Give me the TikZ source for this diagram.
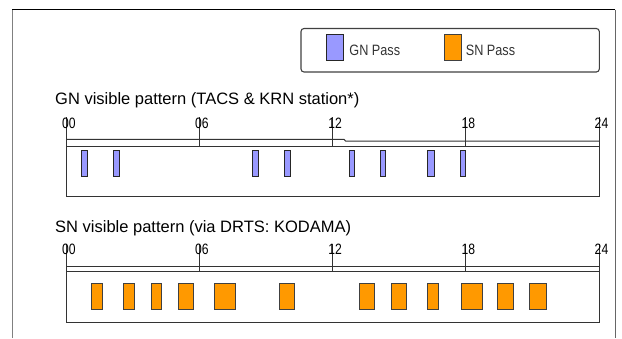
\documentclass[tikz,border=0pt]{standalone}
\usepackage{fontspec}
\setmainfont{Liberation Sans}
\usepackage{tikz}
\usetikzlibrary{positioning}
\definecolor{gnblue}{HTML}{9999FF}
\definecolor{snorange}{HTML}{FF9900}
\tikzset{
  gnbar/.style={draw=black!85, fill=gnblue, line width=0.9pt},
  snbar/.style={draw=black!75, fill=snorange, line width=0.9pt},
  tl/.style={line width=1pt, black!80},
  ttl/.style={font=\fontsize{16.5}{18}\selectfont, anchor=base west, inner sep=0pt},
  hr/.style={font=\fontsize{15}{16}\selectfont, xscale=0.81, anchor=base, inner sep=0pt},
  lgd/.style={font=\fontsize{15}{16}\selectfont, xscale=0.845, anchor=base west, inner sep=0pt, black!80},
}

\begin{document}
\begin{tikzpicture}[x=1pt,y=-1pt]
  \useasboundingbox (0,0) rectangle (622,338);
  % frame
  \draw[line width=1pt, gray] (12.3,338) -- (12.3,9.5);
  \draw[line width=1pt] (12.3,9.5) -- (615,9.5);
  \draw[line width=1pt, gray!80!black] (615,9.5) -- (615,338);

  % legend
  \draw[line width=1.1pt, black!75, rounded corners=3pt] (301,28.5) rectangle (599.3,72);
  \draw[gnbar] (326,34) rectangle (343.3,60);
  \node[lgd] (gnkey) at (349.3,55) {GN Pass};
  \draw[snbar] (444.3,34) rectangle (461,60);
  \node[lgd] (snkey) at (465.7,55) {SN Pass};

  % GN pattern
  \node[ttl] (gntitle) at (55,104.3) {GN visible pattern (TACS \& KRN station*)};
  \draw[tl] (66.3,117) -- (66.3,196.7) -- (599,196.7) -- (599,117);
  \draw[tl] (66.3,139.3) -- (344,139.3) -- (345.5,141) -- (599,141);
  \draw[tl] (66.3,146.7) -- (599,146.7);
  \foreach \t/\h in {66.3/00,199.5/06,332.6/12,465.8/18,599/24} {
    \draw[tl] (\t,117) -- (\t,146.7);
    \node[hr] (gn\h) at (\t+2.5,128.5) {\h};
  }
  \foreach \a/\b in {81.7/87.7,113.3/119.3,252.3/258.3,284/290,349/354,380.7/385.7,427.7/434.3,460.7/465.7}
    \draw[gnbar] (\a,150.7) rectangle (\b,176.7);

  % SN pattern
  \node[ttl] (sntitle) at (55,232.7) {SN visible pattern (via DRTS: KODAMA)};
  \draw[tl] (66.3,243.5) -- (66.3,322.3) -- (599,322.3) -- (599,243.5);
  \draw[tl] (66.3,266.3) -- (599,266.3);
  \draw[tl] (66.3,271.7) -- (599,271.7);
  \foreach \t/\h in {66.3/00,199.5/06,332.6/12,465.8/18,599/24} {
    \draw[tl] (\t,243.5) -- (\t,271.7);
    \node[hr] (sn\h) at (\t+2.5,254.5) {\h};
  }
  \foreach \a/\b in {91.7/102.7,123.3/134.3,151/161.3,178.3/193.3,214.7/235.3,279.3/294.7,359.3/374.7,391/406.7,427.7/438.3,461/482.3,497/513.3,529/546}
    \draw[snbar] (\a,283.3) rectangle (\b,309.3);
\end{tikzpicture}
\end{document}
